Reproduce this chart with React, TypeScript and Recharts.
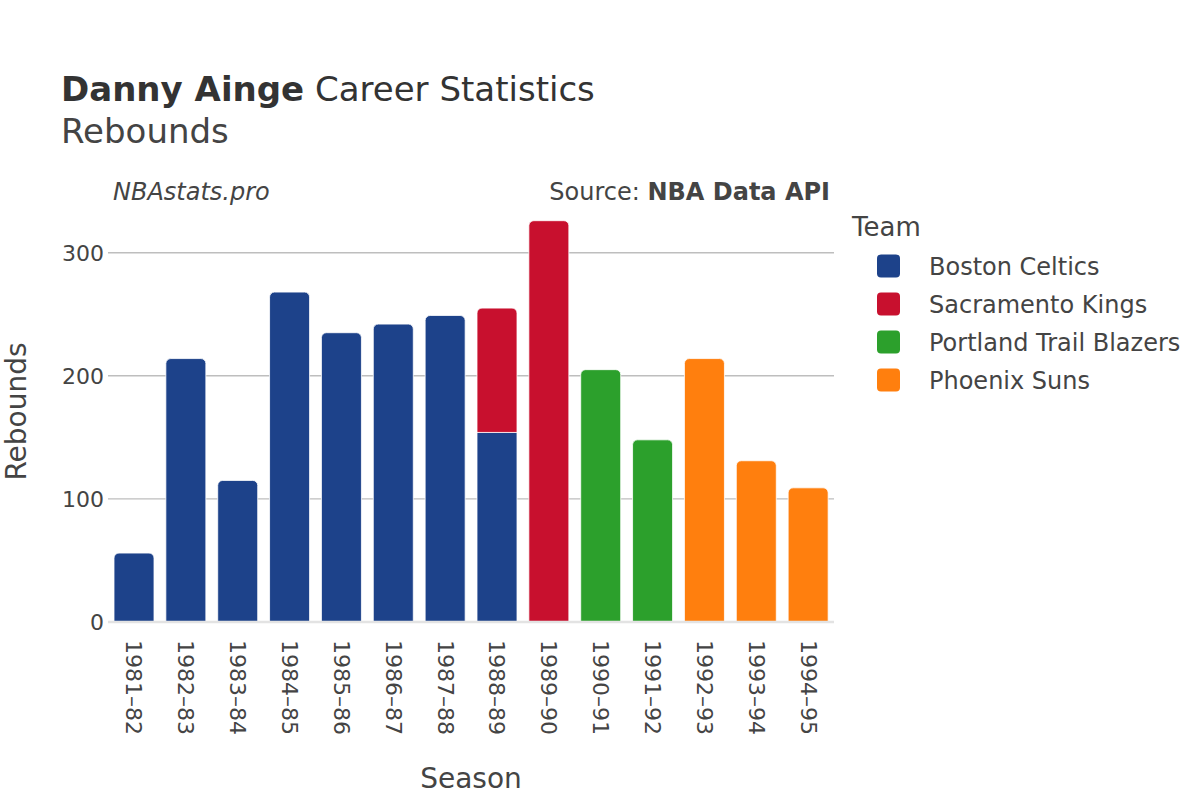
import React from 'react';
import { BarChart, Bar, XAxis, YAxis, Legend, ReferenceLine, Rectangle, Label, CartesianGrid } from 'recharts';

const seasons = ['1981–82', '1982–83', '1983–84', '1984–85', '1985–86', '1986–87', '1987–88', '1988–89', '1989–90', '1990–91', '1991–92', '1992–93', '1993–94', '1994–95'];
const bostonCeltics = [56, 214, 115, 268, 235, 242, 249, 154, null, null, null, null, null, null];
const sacramentoKings = [null, null, null, null, null, null, null, 101, 326, null, null, null, null, null];
const portlandTrailBlazers = [null, null, null, null, null, null, null, null, null, 205, 148, null, null, null];
const phoenixSuns = [null, null, null, null, null, null, null, null, null, null, null, 214, 131, 109];
const yTicks = [0, 100, 200, 300];
const gridValues = [100, 200, 300];

const teams = [
  { key: 'boston', name: 'Boston Celtics', color: '#1d428a', values: bostonCeltics },
  { key: 'sacramento', name: 'Sacramento Kings', color: '#c8102e', values: sacramentoKings },
  { key: 'portland', name: 'Portland Trail Blazers', color: '#2ca02c', values: portlandTrailBlazers },
  { key: 'phoenix', name: 'Phoenix Suns', color: '#ff7f0e', values: phoenixSuns },
];

const data = seasons.map((season, i) => {
  const row: Record<string, any> = { season };
  teams.forEach((t) => {
    row[t.key] = t.values[i];
  });
  return row;
});

const FONT = '"DejaVu Sans", sans-serif';

const makeShape = (teamIndex: number) => (props: any) => {
  const { payload } = props;
  const above = teams.slice(teamIndex + 1).some((t) => payload && payload[t.key] != null && payload[t.key] > 0);
  if (!props.height || props.height <= 0) return null;
  return (
    <Rectangle
      x={props.x}
      y={props.y}
      width={props.width}
      height={props.height}
      fill={props.fill}
      stroke="#ffffff"
      strokeWidth={0.8}
      radius={above ? 0 : [5, 5, 0, 0]}
    />
  );
};

const XTick = (props: any) => {
  const { x, y, payload } = props;
  return (
    <text
      x={x}
      y={y}
      transform={`rotate(90, ${x}, ${y})`}
      textAnchor="start"
      dominantBaseline="central"
      fontSize={22}
      fontFamily={FONT}
      fill="#444"
    >
      {payload.value}
    </text>
  );
};

const renderLegend = () => (
  <svg width={366} height={200} style={{ display: 'block' }}>
    <text x={18} y={36} fontSize={26} fontFamily={FONT} fill="#444">Team</text>
    {teams.map((t, i) => {
      const cy = 66 + i * 38;
      return (
        <g key={t.key}>
          <rect x={43} y={cy - 11.5} width={23} height={23} rx={4} ry={4} fill={t.color} />
          <text x={95} y={cy + 8.5} fontSize={24} fontFamily={FONT} fill="#444">{t.name}</text>
        </g>
      );
    })}
  </svg>
);

export default function App() {
  return (
    <div style={{ position: 'absolute', top: 0, left: 0, width: 1200, height: 800, background: '#fff' }}>
      <BarChart
        width={1200}
        height={800}
        data={data}
        margin={{ top: 201, right: 366, bottom: 0, left: 8 }}
        barCategoryGap={6}
      >
        <CartesianGrid
          horizontal
          vertical={false}
          horizontalValues={gridValues}
          stroke="#bebebe"
          strokeWidth={1.4}
        />
        <XAxis
          dataKey="season"
          interval={0}
          axisLine={false}
          tickLine={false}
          tickSize={0}
          tickMargin={18}
          height={178}
          tick={<XTick />}
        >
          <Label
            content={({ viewBox }: any) => (
              <text
                x={viewBox.x + viewBox.width / 2}
                y={viewBox.y + 166}
                textAnchor="middle"
                fontSize={28}
                fontFamily={FONT}
                fill="#444"
              >
                Season
              </text>
            )}
          />
        </XAxis>
        <YAxis
          width={100}
          domain={[0, 342]}
          ticks={yTicks}
          axisLine={false}
          tickLine={false}
          tickSize={0}
          tickMargin={4}
          tick={{ fontSize: 22, fontFamily: FONT, fill: '#444' }}
        >
          <Label
            content={({ viewBox }: any) => {
              const cx = viewBox.x + 8;
              const cy = viewBox.y + viewBox.height / 2;
              return (
                <text
                  x={cx}
                  y={cy}
                  transform={`rotate(-90, ${cx}, ${cy})`}
                  textAnchor="middle"
                  dominantBaseline="central"
                  fontSize={28}
                  fontFamily={FONT}
                  fill="#444"
                >
                  Rebounds
                </text>
              );
            }}
          />
        </YAxis>
        <Legend
          layout="vertical"
          align="center"
          verticalAlign="middle"
          wrapperStyle={{ top: 200, left: 834, width: 366, height: 200 }}
          content={renderLegend}
        />
        {teams.map((t, i) => (
          <Bar
            key={t.key}
            dataKey={t.key}
            name={t.name}
            stackId="a"
            fill={t.color}
            isAnimationActive={false}
            shape={makeShape(i)}
          />
        ))}
        <ReferenceLine y={0} stroke="#e3e3e3" strokeWidth={2.5} />
      </BarChart>
      <svg
        width={1200}
        height={800}
        style={{ position: 'absolute', top: 0, left: 0, pointerEvents: 'none' }}
      >
        <text x={61} y={101} fontSize={34} fontFamily={FONT} fill="#333">
          <tspan fontWeight="bold">Danny Ainge</tspan> Career Statistics
        </text>
        <text x={61} y={143} fontSize={34} fontFamily={FONT} fill="#444">Rebounds</text>
        <text x={113} y={200} fontSize={24} fontFamily={FONT} fontStyle="italic" fill="#444">NBAstats.pro</text>
        <text x={830} y={200} fontSize={24} fontFamily={FONT} fill="#444" textAnchor="end">
          Source: <tspan fontWeight="bold">NBA Data API</tspan>
        </text>
      </svg>
    </div>
  );
}
